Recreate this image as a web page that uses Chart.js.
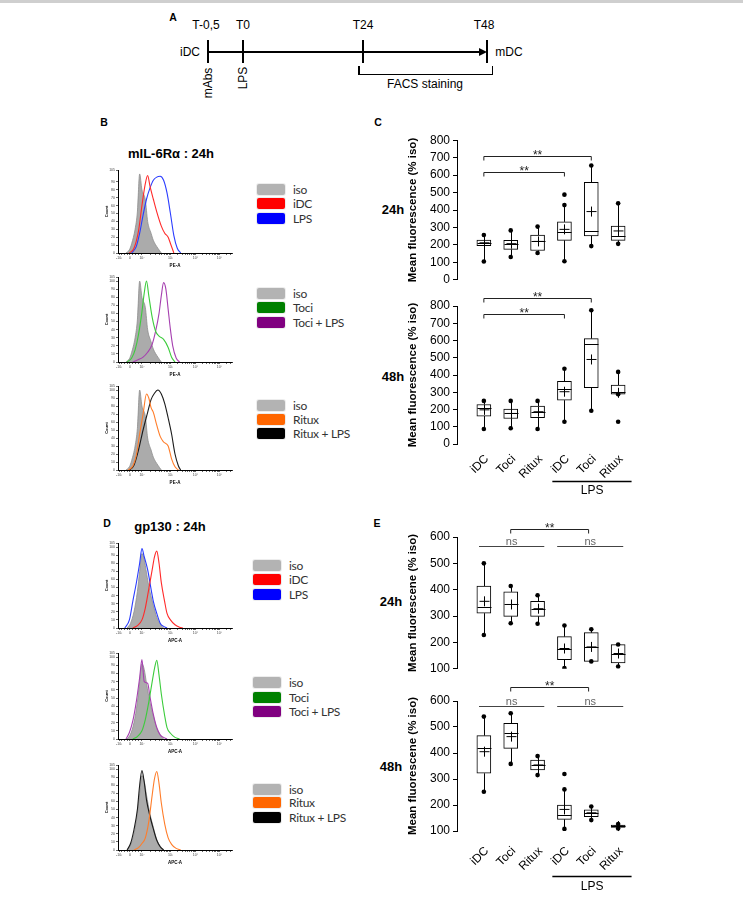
<!DOCTYPE html>
<html>
<head>
<meta charset="utf-8">
<script src="https://cdn.jsdelivr.net/npm/chart.js@4.4.1/dist/chart.umd.min.js"></script>
<style>
  body { margin: 0; width: 743px; height: 899px; position: relative; overflow: hidden; background: #fff;
         font-family: "Liberation Sans", Arial, sans-serif; color: #000; }
  .t { position: absolute; white-space: nowrap; transform: translate(-50%, -50%); line-height: 1; }
  .b { font-weight: bold; }
  .ln { position: absolute; background: #000; }
  .lg-box { position: absolute; width: 28px; height: 11px; border-radius: 2px; box-shadow: 0 0 0 1px rgba(0,0,0,0.07); }
  .lg-txt { position: absolute; font-family: Lato, "Open Sans", sans-serif; font-size: 12px; letter-spacing: -0.3px; color: #333;
            transform: translateY(-50%); white-space: nowrap; line-height: 1; }
  canvas { position: absolute; }
</style>
</head>
<body>
<div style="position:absolute;left:0;top:0;width:743px;height:3px;background:#cfcfcf"></div>

<!-- ---- PANEL A: timeline ---- -->
<div class="t b" style="left:173px;top:17px;font-size:10.5px">A</div>
<div class="t" style="left:206px;top:25px;font-size:12px">T-0,5</div>
<div class="t" style="left:243px;top:25px;font-size:12px">T0</div>
<div class="t" style="left:363px;top:25px;font-size:12px">T24</div>
<div class="t" style="left:484px;top:25px;font-size:12px">T48</div>
<div class="t" style="left:190px;top:52px;font-size:12px">iDC</div>
<div class="t" style="left:509px;top:52px;font-size:12px">mDC</div>
<div class="ln" style="left:208px;top:50.5px;width:274px;height:2px"></div>
<div style="position:absolute;left:479px;top:47.5px;width:0;height:0;border-left:8px solid #000;border-top:4px solid transparent;border-bottom:4px solid transparent"></div>
<div class="ln" style="left:207px;top:40px;width:2px;height:23px"></div>
<div class="ln" style="left:242px;top:40px;width:2px;height:23px"></div>
<div class="ln" style="left:362px;top:40px;width:2px;height:23px"></div>
<div class="ln" style="left:486px;top:40px;width:2px;height:23px"></div>
<div class="t" style="left:208px;top:83px;font-size:12px;transform:translate(-50%,-50%) rotate(-90deg)">mAbs</div>
<div class="t" style="left:243px;top:78px;font-size:12px;transform:translate(-50%,-50%) rotate(-90deg)">LPS</div>
<div class="ln" style="left:358px;top:73.5px;width:135px;height:1.5px"></div>
<div class="ln" style="left:358px;top:66px;width:1.5px;height:9px"></div>
<div class="ln" style="left:491.5px;top:66px;width:1.5px;height:9px"></div>
<div class="t" style="left:425px;top:84px;font-size:12px">FACS staining</div>

<!-- ---- panel letters and titles ---- -->
<div class="t b" style="left:104px;top:122px;font-size:10.5px">B</div>
<div class="t b" style="left:378px;top:122px;font-size:10.5px">C</div>
<div class="t b" style="left:107px;top:523px;font-size:10.5px">D</div>
<div class="t b" style="left:377px;top:523px;font-size:10.5px">E</div>
<div class="t b" style="left:171px;top:153px;font-size:13px">mIL-6Rα : 24h</div>
<div class="t b" style="left:170px;top:526px;font-size:13px">gp130 : 24h</div>
<div class="t b" style="left:393px;top:209px;font-size:13px">24h</div>
<div class="t b" style="left:393px;top:376px;font-size:13px">48h</div>
<div class="t b" style="left:391px;top:601px;font-size:13px">24h</div>
<div class="t b" style="left:391px;top:766px;font-size:13px">48h</div>

<script>
// ---- DATA: box plots (% iso) ----
const groups = ["iDC", "Toci", "Ritux", "iDC", "Toci", "Ritux"];

// panel C, mIL-6Rα 24h
const c24Min  = [105, 131, 154, 106, 193, 206];
const c24Q1   = [195, 174, 168, 226, 251, 226];
const c24Med  = [210, 205, 222, 276, 280, 251];
const c24Q3   = [228, 226, 256, 332, 559, 308];
const c24Max  = [257, 283, 305, 428, 655, 438];
const c24Mean = [212, 207, 220, 289, 391, 280];
const c24Out  = [[], [], [], [488], [], []];

// panel C, mIL-6Rα 48h
const c48Min  = [87, 91, 87, 129, 193, 289];
const c48Q1   = [162, 148, 152, 254, 326, 289];
const c48Med  = [206, 177, 187, 318, 582, 303];
const c48Q3   = [229, 202, 220, 364, 611, 341];
const c48Max  = [250, 250, 250, 436, 775, 418];
const c48Mean = [198, 177, 187, 303, 490, 297];
const c48Out  = [[], [], [], [], [], [129]];

// panel E, gp130 24h
const e24Min  = [228, 273, 271, 103, 128, 109];
const e24Q1   = [311, 299, 299, 135, 128, 122];
const e24Med  = [333, 344, 328, 177, 183, 158];
const e24Q3   = [414, 392, 356, 222, 237, 192];
const e24Max  = [500, 414, 379, 264, 250, 192];
const e24Mean = [356, 344, 328, 177, 183, 158];
const e24Out  = [[], [], [], [], [], []];

// panel E, gp130 48h
const e48Min  = [251, 358, 315, 108, 142, 110];
const e48Q1   = [322, 418, 335, 145, 155, 114];
const e48Med  = [418, 478, 354, 161, 170, 119];
const e48Q3   = [467, 514, 373, 200, 181, 123];
const e48Max  = [540, 553, 388, 260, 194, 127];
const e48Mean = [405, 463, 354, 183, 170, 119];
const e48Out  = [[], [], [], [319], [], []];

// significance bars: [from group, to group, level (% iso), label]
const c24Sig = [[1, 5, 707, "**"], [1, 4, 620, "**"]];
const c48Sig = [[1, 5, 848, "**"], [1, 4, 756, "**"]];
const e24Sig = [[2, 4.9, 631, "**"], [0.82, 3.25, 565, "ns"], [3.73, 6.19, 565, "ns"]];
const e48Sig = [[2, 4.9, 654, "**"], [0.82, 3.25, 581, "ns"], [3.73, 6.19, 581, "ns"]];

// ---- DATA: histograms, x = position on the biexponential axis (0-100), y = % of max count ----
const histXTickPos    = [1, 10.5, 21, 46, 68, 89];
const histXTickLabels = ["-10³", "0", "10²", "10³", "10⁴", "10⁵"];

// mIL-6Rα (panel B)
const bIsoX = [7, 10, 12, 15, 17, 19, 21, 24, 26, 29, 31, 35, 38];
const bIsoY = [0, 4, 12, 30, 52, 100, 80, 67, 40, 25, 16, 6, 0];
const bIdcX = [10, 14, 18, 21, 24, 26, 28, 31, 34, 38, 41, 44, 46, 49];
const bIdcY = [0, 6, 28, 60, 88, 98, 85, 68, 52, 34, 25, 20, 12, 0];
const bLpsX = [12, 16, 19, 22, 25, 28, 31, 34, 37, 40, 43, 46, 49, 52, 55];
const bLpsY = [0, 8, 25, 48, 68, 82, 92, 96, 97, 92, 76, 50, 22, 6, 0];
const bTociX = [8, 12, 15, 18, 21, 23, 25, 27, 30, 33, 36, 40, 44, 47, 50];
const bTociY = [0, 5, 15, 34, 62, 85, 100, 82, 55, 38, 32, 28, 18, 6, 0];
const bTociLpsX = [13, 18, 22, 26, 30, 33, 36, 38, 40, 42, 44, 46, 48, 51, 54];
const bTociLpsY = [0, 3, 6, 12, 22, 38, 60, 82, 98, 90, 65, 40, 20, 5, 0];
const bRituxX = [9, 13, 16, 19, 22, 25, 27, 29, 31, 34, 37, 40, 44, 47, 50, 53];
const bRituxY = [0, 5, 18, 45, 70, 95, 90, 78, 72, 56, 42, 35, 30, 14, 4, 0];
const bRituxLpsX = [10, 14, 18, 22, 26, 29, 32, 35, 38, 41, 44, 47, 50, 53, 55];
const bRituxLpsY = [0, 6, 25, 50, 72, 88, 96, 100, 95, 83, 65, 45, 20, 5, 0];

// gp130 (panel D)
const dIsoX = [8, 11, 14, 17, 19, 21, 23, 25, 28, 31, 34, 37, 40];
const dIsoY = [0, 6, 20, 45, 70, 92, 85, 68, 45, 28, 13, 5, 0];
const dIdcX = [13, 17, 21, 24, 27, 30, 32, 34, 36, 38, 41, 43, 46, 50, 54, 57];
const dIdcY = [0, 3, 10, 25, 48, 72, 88, 95, 80, 56, 32, 18, 10, 4, 1, 0];
const dLpsX = [6, 10, 13, 16, 19, 21, 23, 26, 29, 31, 34, 37, 40, 43];
const dLpsY = [0, 10, 33, 55, 80, 98, 88, 72, 48, 33, 18, 6, 2, 0];
const dTociX = [13, 17, 21, 24, 27, 30, 32, 34, 36, 38, 41, 43, 46, 50, 54];
const dTociY = [0, 3, 10, 24, 45, 70, 86, 96, 78, 55, 28, 14, 7, 2, 0];
const dTociLpsX = [7, 10, 13, 16, 19, 21, 23, 26, 28, 31, 34, 37, 40, 43];
const dTociLpsY = [0, 8, 22, 45, 75, 97, 70, 68, 52, 30, 14, 5, 2, 0];
const dRituxX = [14, 18, 21, 24, 27, 30, 32, 34, 36, 38, 41, 44, 47, 51, 55];
const dRituxY = [0, 3, 8, 15, 35, 68, 88, 97, 82, 58, 32, 15, 7, 2, 0];
const dRituxLpsX = [8, 11, 14, 17, 19, 21, 23, 25, 28, 31, 34, 37, 40];
const dRituxLpsY = [0, 8, 25, 50, 80, 98, 84, 62, 42, 26, 12, 4, 0];

// ---- STYLES ----
const col = {
    iso:      { legend: "#b3b3b3", line: "#8e8e8e", fill: "#ababab" },
    iDC:      { legend: "#ff0000", line: "#ff2a2a" },
    LPS:      { legend: "#0000ff", line: "#2a3cff" },
    Toci:     { legend: "#008000", line: "#3ccc3c" },
    TociLPS:  { legend: "#800080", line: "#a640b0" },
    Ritux:    { legend: "#ff6600", line: "#ff7d2a" },
    RituxLPS: { legend: "#000000", line: "#1a1a1a" }
};

// ---- HELPERS ----
function addCanvas(left, top, w, h) {
    const c = document.createElement("canvas");
    c.width = w;
    c.height = h;
    c.style.left = left + "px";
    c.style.top = top + "px";
    c.style.width = w + "px";
    c.style.height = h + "px";
    document.body.appendChild(c);
    return c;
}

function histXTicks() {
    const t = histXTickPos.slice();
    [[1, 10.5], [10.5, 21]].forEach(([a, b]) => {
        for (let k = 1; k < 4; k++) t.push(a + (b - a) * k / 4);
    });
    [[21, 46], [46, 68], [68, 89], [89, 110]].forEach(([a, b]) => {
        for (let k = 2; k < 10; k++) {
            const p = a + (b - a) * Math.log10(k);
            if (p < 100) t.push(p);
        }
    });
    return t.sort((p, q) => p - q);
}

// ---- HISTOGRAMS ----
function histogram(areaTop, areaBottom, curves, xTitle) {
    const canvas = addCanvas(96, areaTop - 5, 140, areaBottom - areaTop + 5 + 18);
    new Chart(canvas, {
        type: "line",
        data: {
            datasets: curves.map((c, i) => ({
                label: c.label,
                data: c.xs.map((x, j) => ({ x: x, y: c.ys[j] })),
                borderColor: c.style.line,
                backgroundColor: c.style.fill || "transparent",
                fill: c.style.fill ? "origin" : false,
                borderWidth: c.style.fill ? 0.8 : 1.1,
                pointRadius: 0,
                cubicInterpolationMode: "monotone",
                order: c.style.fill ? 10 : i
            }))
        },
        options: {
            responsive: false,
            animation: false,
            layout: { padding: { top: 5, right: 4, left: 0, bottom: 0 } },
            plugins: { legend: { display: false }, tooltip: { enabled: false } },
            scales: {
                x: {
                    type: "linear", min: 0, max: 100,
                    afterBuildTicks: s => { s.ticks = histXTicks().map(v => ({ value: v })); },
                    afterFit: s => { s.height = 18; },
                    ticks: {
                        autoSkip: false, maxRotation: 0, padding: 1, color: "#444",
                        font: { size: 3.5 },
                        callback: v => {
                            const i = histXTickPos.indexOf(v);
                            return i >= 0 ? histXTickLabels[i] : "";
                        }
                    },
                    grid: { drawOnChartArea: false, tickLength: 2, color: "#000", lineWidth: 0.6 },
                    border: { color: "#000", width: 1 },
                    title: { display: true, text: xTitle, font: { size: 4.5, weight: "bold" }, color: "#000",
                             padding: { top: 0, bottom: 2.3 } }
                },
                y: {
                    type: "linear", min: 0, max: 105,
                    afterFit: s => { s.width = 22; },
                    ticks: { stepSize: 10, autoSkip: false, padding: 1, color: "#444", font: { size: 3.5 } },
                    grid: { drawOnChartArea: false, tickLength: 2, color: "#000", lineWidth: 0.6 },
                    border: { color: "#000", width: 1 },
                    title: { display: true, text: "Count", font: { size: 4, weight: "bold" }, color: "#000",
                             padding: { top: 8.6, bottom: 0 } }
                }
            }
        }
    });
}

function legend(boxLeft, tops, items) {
    items.forEach((it, i) => {
        const box = document.createElement("div");
        box.className = "lg-box";
        box.style.left = boxLeft + "px";
        box.style.top = tops[i] + "px";
        box.style.background = it.style.legend;
        document.body.appendChild(box);
        const txt = document.createElement("div");
        txt.className = "lg-txt";
        txt.style.left = (boxLeft + 36) + "px";
        txt.style.top = (tops[i] + 5.5) + "px";
        txt.textContent = it.label;
        document.body.appendChild(txt);
    });
}

// panel B
const bIso = { label: "iso", xs: bIsoX, ys: bIsoY, style: col.iso };
histogram(170, 253, [bIso,
    { label: "iDC", xs: bIdcX, ys: bIdcY, style: col.iDC },
    { label: "LPS", xs: bLpsX, ys: bLpsY, style: col.LPS }], "PE-A");
histogram(277, 362, [bIso,
    { label: "Toci", xs: bTociX, ys: bTociY, style: col.Toci },
    { label: "Toci + LPS", xs: bTociLpsX, ys: bTociLpsY, style: col.TociLPS }], "PE-A");
histogram(386, 470, [bIso,
    { label: "Ritux", xs: bRituxX, ys: bRituxY, style: col.Ritux },
    { label: "Ritux + LPS", xs: bRituxLpsX, ys: bRituxLpsY, style: col.RituxLPS }], "PE-A");

// panel D
const dIso = { label: "iso", xs: dIsoX, ys: dIsoY, style: col.iso };
histogram(543, 628, [dIso,
    { label: "iDC", xs: dIdcX, ys: dIdcY, style: col.iDC },
    { label: "LPS", xs: dLpsX, ys: dLpsY, style: col.LPS }], "APC-A");
histogram(653, 739, [dIso,
    { label: "Toci", xs: dTociX, ys: dTociY, style: col.Toci },
    { label: "Toci + LPS", xs: dTociLpsX, ys: dTociLpsY, style: col.TociLPS }], "APC-A");
histogram(765, 850, [dIso,
    { label: "Ritux", xs: dRituxX, ys: dRituxY, style: col.Ritux },
    { label: "Ritux + LPS", xs: dRituxLpsX, ys: dRituxLpsY, style: col.RituxLPS }], "APC-A");

const isoItem = { label: "iso", style: col.iso };
legend(257, [184, 198, 213], [isoItem, { label: "iDC", style: col.iDC }, { label: "LPS", style: col.LPS }]);
legend(257, [288, 302, 317], [isoItem, { label: "Toci", style: col.Toci }, { label: "Toci + LPS", style: col.TociLPS }]);
legend(257, [400, 414, 428], [isoItem, { label: "Ritux", style: col.Ritux }, { label: "Ritux + LPS", style: col.RituxLPS }]);
legend(253, [560, 574, 589], [isoItem, { label: "iDC", style: col.iDC }, { label: "LPS", style: col.LPS }]);
legend(253, [677, 692, 706], [isoItem, { label: "Toci", style: col.Toci }, { label: "Toci + LPS", style: col.TociLPS }]);
legend(253, [784, 797, 812], [isoItem, { label: "Ritux", style: col.Ritux }, { label: "Ritux + LPS", style: col.RituxLPS }]);

// ---- BOX PLOTS ----
function boxParts(s) {
    return {
        id: "boxparts",
        beforeDatasetsDraw(chart) {
            const { ctx, scales: { x, y } } = chart;
            ctx.save();
            ctx.strokeStyle = "#000";
            ctx.lineWidth = 1;
            s.q1.forEach((q, i) => {
                const px = Math.round(x.getPixelForValue(i + 1)) + 0.5;
                ctx.beginPath();
                ctx.moveTo(px, y.getPixelForValue(s.max[i]));
                ctx.lineTo(px, y.getPixelForValue(s.q3[i]));
                ctx.moveTo(px, y.getPixelForValue(q));
                ctx.lineTo(px, y.getPixelForValue(s.min[i]));
                ctx.stroke();
            });
            ctx.restore();
        },
        afterDatasetsDraw(chart) {
            const { ctx, scales: { x, y }, chartArea } = chart;
            ctx.save();
            ctx.strokeStyle = "#000";
            ctx.lineWidth = 1;
            s.med.forEach((m, i) => {
                const px = Math.round(x.getPixelForValue(i + 1)) + 0.5;
                const my = Math.round(y.getPixelForValue(m)) + 0.5;
                ctx.beginPath();
                ctx.moveTo(px - 7, my);
                ctx.lineTo(px + 7, my);
                const ay = y.getPixelForValue(s.mean[i]);
                ctx.moveTo(px - 5, ay);
                ctx.lineTo(px + 5, ay);
                ctx.moveTo(px, ay - 5);
                ctx.lineTo(px, ay + 5);
                ctx.stroke();
            });
            // significance bars
            ctx.textAlign = "center";
            ctx.textBaseline = "alphabetic";
            s.sig.forEach(b => {
                const x1 = x.getPixelForValue(b[0]), x2 = x.getPixelForValue(b[1]);
                const py = Math.round(y.getPixelForValue(b[2])) + 0.5;
                const star = b[3] === "**";
                ctx.strokeStyle = star ? "#222" : "#444";
                ctx.beginPath();
                if (star) {
                    ctx.moveTo(x1, py + 4);
                    ctx.lineTo(x1, py);
                    ctx.lineTo(x2, py);
                    ctx.lineTo(x2, py + 4);
                } else {
                    ctx.moveTo(x1, py);
                    ctx.lineTo(x2, py);
                }
                ctx.stroke();
                ctx.fillStyle = star ? "#222" : "#666";
                ctx.font = star ? "12px 'Liberation Sans'" : "11px 'Liberation Sans'";
                ctx.fillText(b[3], (x1 + x2) / 2, star ? py + 2 : py - 1.5);
            });
            // LPS group line under the x labels
            if (s.lps) {
                const ly = Math.round(chartArea.bottom + s.lps[0]) + 0.5;
                ctx.strokeStyle = "#000";
                ctx.lineWidth = 1.3;
                ctx.beginPath();
                ctx.moveTo(x.getPixelForValue(3.55), ly);
                ctx.lineTo(x.getPixelForValue(6.5), ly);
                ctx.stroke();
                ctx.fillStyle = "#000";
                ctx.font = "12px 'Liberation Sans'";
                ctx.textBaseline = "middle";
                ctx.fillText("LPS", x.getPixelForValue(5.03), chartArea.bottom + s.lps[1]);
            }
            ctx.restore();
        }
    };
}

function boxChart(s) {
    const canvas = addCanvas(400, s.top, 250, s.height);
    const dots = [];
    s.q1.forEach((q, i) => {
        dots.push({ x: i + 1, y: s.min[i] }, { x: i + 1, y: s.max[i] });
        s.out[i].forEach(v => dots.push({ x: i + 1, y: v }));
    });
    new Chart(canvas, {
        type: "bar",
        data: {
            datasets: [
                {
                    type: "bar",
                    data: s.q1.map((q, i) => ({ x: i + 1, y: [q, s.q3[i]] })),
                    backgroundColor: "#fff",
                    borderColor: "#000",
                    borderWidth: 1,
                    borderSkipped: false,
                    barThickness: 14,
                    order: 2
                },
                {
                    type: "scatter",
                    data: dots,
                    pointRadius: 2.3,
                    pointBackgroundColor: "#000",
                    pointBorderColor: "#000",
                    pointBorderWidth: 0,
                    order: 1
                }
            ]
        },
        options: {
            responsive: false,
            animation: false,
            layout: { padding: { top: s.padTop, right: 5, left: 0, bottom: 0 } },
            plugins: { legend: { display: false }, tooltip: { enabled: false } },
            scales: {
                x: {
                    type: "linear", min: 0, max: 7, offset: false,
                    display: s.showX,
                    afterBuildTicks: sc => { sc.ticks = groups.map((g, i) => ({ value: i + 1 })); },
                    afterFit: sc => { sc.height = s.xHeight || 0; },
                    ticks: {
                        autoSkip: false, minRotation: 45, maxRotation: 45, padding: s.labelPad || 0,
                        labelOffset: 3,
                        color: "#000", font: { size: 12, family: "Liberation Sans" },
                        callback: (v, i) => groups[i]
                    },
                    grid: { display: false, drawTicks: false },
                    border: { display: false }
                },
                y: {
                    type: "linear", min: s.yMin, max: s.yMax,
                    afterFit: sc => { sc.width = 57; },
                    ticks: { stepSize: 100, autoSkip: false, padding: 3, color: "#000",
                             font: { size: 12, family: "Liberation Sans" } },
                    grid: { drawOnChartArea: false, drawTicks: true, tickLength: 4, color: "#000" },
                    border: { display: true, color: "#000", width: 1 },
                    title: { display: true, text: s.yTitle, color: "#000",
                             font: { size: 11.5, weight: "bold", family: "Liberation Sans" },
                             padding: { top: 6, bottom: 0 } }
                }
            }
        },
        plugins: [boxParts(s)]
    });
}

boxChart({ top: 130, height: 160, padTop: 10, yMin: 0, yMax: 800, showX: false,
    yTitle: "Mean fluorescence (% iso)",
    min: c24Min, q1: c24Q1, med: c24Med, q3: c24Q3, max: c24Max, mean: c24Mean, out: c24Out, sig: c24Sig });
boxChart({ top: 282, height: 218, padTop: 24, yMin: 0, yMax: 800, showX: true, xHeight: 56, labelPad: 8,
    yTitle: "Mean fluorescence (% iso)", lps: [37, 47],
    min: c48Min, q1: c48Q1, med: c48Med, q3: c48Q3, max: c48Max, mean: c48Mean, out: c48Out, sig: c48Sig });
boxChart({ top: 505, height: 174, padTop: 32, yMin: 100, yMax: 600, showX: false,
    yTitle: "Mean fluorescene (% iso)",
    min: e24Min, q1: e24Q1, med: e24Med, q3: e24Q3, max: e24Max, mean: e24Mean, out: e24Out, sig: e24Sig });
boxChart({ top: 672, height: 227, padTop: 29, yMin: 100, yMax: 600, showX: true, xHeight: 68, labelPad: 13,
    yTitle: "Mean fluorescene (% iso)", lps: [45, 56],
    min: e48Min, q1: e48Q1, med: e48Med, q3: e48Q3, max: e48Max, mean: e48Mean, out: e48Out, sig: e48Sig });
</script>
</body>
</html>
